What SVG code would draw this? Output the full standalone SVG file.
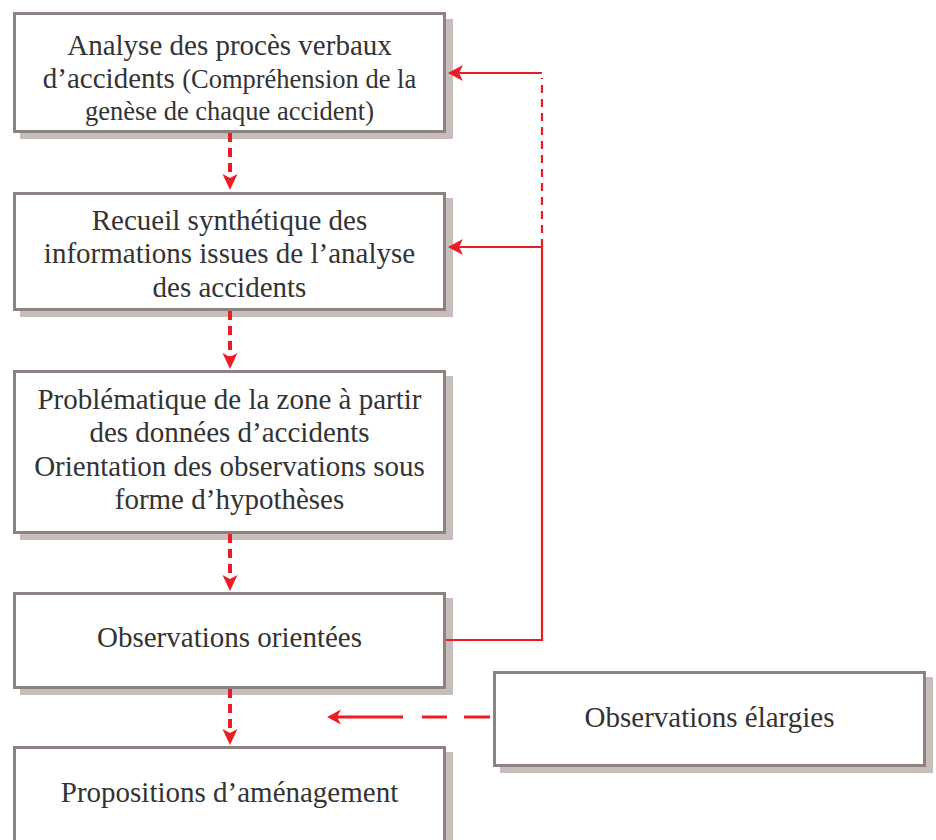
<svg xmlns="http://www.w3.org/2000/svg" width="936" height="840" viewBox="0 0 936 840">
  <style>
    .shadow { fill: #c7bdba; }
    .box { fill: #ffffff; stroke: #8c8380; stroke-width: 3; }
    .t { font-family: "Liberation Serif", "Times New Roman", serif; font-size: 29px; fill: #333333; text-anchor: middle; }
    .s { font-size: 26.5px; }
    .thick { stroke: #ed1c24; stroke-width: 4; fill: none; stroke-dasharray: 9 6; }
    .thin { stroke: #ed1c24; stroke-width: 2.2; fill: none; }
    .thinDash { stroke: #ed1c24; stroke-width: 2.2; fill: none; stroke-dasharray: 8 6; }
    .mid { stroke: #ed1c24; stroke-width: 3; fill: none; }
  </style>
  <defs>
    <marker id="headThick" viewBox="-17 -9 18 18" refX="-12" refY="0" markerWidth="18" markerHeight="18" markerUnits="userSpaceOnUse" orient="auto">
      <path d="M0,0 L-16,-7.5 L-12,0 L-16,7.5 Z" fill="#ed1c24"/>
    </marker>
    <marker id="headThin" viewBox="-17 -9 18 18" refX="-11" refY="0" markerWidth="18" markerHeight="18" markerUnits="userSpaceOnUse" orient="auto">
      <path d="M0,0 L-15,-8 L-11,0 L-15,8 Z" fill="#ed1c24"/>
    </marker>
    <marker id="headMid" viewBox="-17 -9 18 18" refX="-10" refY="0" markerWidth="18" markerHeight="18" markerUnits="userSpaceOnUse" orient="auto">
      <path d="M0,0 L-14,-7.5 L-10,0 L-14,7.5 Z" fill="#ed1c24"/>
    </marker>
  </defs>

  <g id="node-analyse">
    <rect class="shadow" x="20" y="19" width="433" height="120"/>
    <rect class="box" x="14.5" y="13.5" width="430" height="118"/>
    <text class="t" x="229.5" y="55">Analyse des procès verbaux</text>
    <text class="t" x="229.5" y="88">d’accidents <tspan class="s">(Compréhension de la</tspan></text>
    <text class="t s" x="229.5" y="120">genèse de chaque accident)</text>
  </g>

  <g id="node-recueil">
    <rect class="shadow" x="20" y="198" width="433" height="119"/>
    <rect class="box" x="14.5" y="193.5" width="430" height="116"/>
    <text class="t" x="229.5" y="230">Recueil synthétique des</text>
    <text class="t" x="229.5" y="263">informations issues de l’analyse</text>
    <text class="t" x="229.5" y="297">des accidents</text>
  </g>

  <g id="node-problematique">
    <rect class="shadow" x="20" y="376" width="433" height="164"/>
    <rect class="box" x="14.5" y="371.5" width="430" height="161"/>
    <text class="t" x="229.5" y="409">Problématique de la zone à partir</text>
    <text class="t" x="229.5" y="442">des données d’accidents</text>
    <text class="t" x="229.5" y="476">Orientation des observations sous</text>
    <text class="t" x="229.5" y="509">forme d’hypothèses</text>
  </g>

  <g id="node-observations-orientees">
    <rect class="shadow" x="20" y="598" width="433" height="97"/>
    <rect class="box" x="14.5" y="593.5" width="430" height="94"/>
    <text class="t" x="229.5" y="647">Observations orientées</text>
  </g>

  <g id="node-propositions">
    <rect class="shadow" x="20" y="752" width="433" height="120"/>
    <rect class="box" x="14.5" y="747.5" width="430" height="120"/>
    <text class="t" x="229.5" y="802">Propositions d’aménagement</text>
  </g>

  <g id="node-observations-elargies">
    <rect class="shadow" x="500" y="677" width="433" height="96"/>
    <rect class="box" x="494.5" y="672.5" width="430" height="93"/>
    <text class="t" x="709.5" y="727">Observations élargies</text>
  </g>

  <g id="connectors">
    <line class="thick" x1="230" y1="133" x2="230" y2="178" marker-end="url(#headThick)"/>
    <line class="thick" x1="230" y1="311" x2="230" y2="357" marker-end="url(#headThick)"/>
    <line class="thick" x1="230" y1="534" x2="230" y2="579" marker-end="url(#headThick)"/>
    <line class="thick" x1="230" y1="689" x2="230" y2="733" marker-end="url(#headThick)"/>

    <polyline class="thin" points="446,640 542,640 542,247"/>
    <line class="thinDash" x1="542" y1="247" x2="542" y2="78"/>
    <line class="thin" x1="542" y1="247" x2="459" y2="247" marker-end="url(#headThin)"/>
    <line class="thin" x1="542" y1="73" x2="459" y2="73" marker-end="url(#headThin)"/>

    <line class="mid" x1="490" y1="717" x2="464" y2="717"/>
    <line class="mid" x1="447" y1="717" x2="422" y2="717"/>
    <line class="mid" x1="403" y1="717" x2="337" y2="717" marker-end="url(#headMid)"/>
  </g>
</svg>
